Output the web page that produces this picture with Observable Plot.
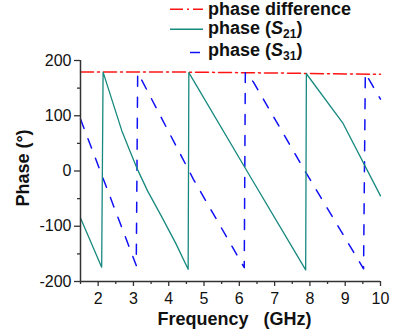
<!DOCTYPE html>
<html>
<head>
<meta charset="utf-8">
<script src="https://cdn.jsdelivr.net/npm/d3@7"></script>
<script src="https://cdn.jsdelivr.net/npm/@observablehq/plot@0.6"></script>
<style>
  html, body { margin: 0; padding: 0; background: #fff; }
  #chart { position: relative; width: 395px; height: 335px; }
</style>
</head>
<body>
<div id="chart"></div>
<script>
// ---- data ----
const s21Freq  = [1.5, 2.10, 2.14, 2.40, 2.67, 2.90, 3.12, 3.40, 3.81, 4.20, 4.55, 4.57, 6.30, 7.88, 7.90, 8.94, 10.0];
const s21Phase = [-85, -174, 179, 127, 73, 36, 2, -36, -84, -131, -178, 178, -9, -179, 176, 86, -45];

const s31Freq  = [1.5, 3.08, 3.12, 3.19, 4.70, 6.14, 6.17, 6.40, 7.86, 9.52, 9.57, 9.88, 10.0];
const s31Phase = [94, -171, 177, 170, -15, -175, 178, 161, 0, -177, 177, 143, 130];

const diffFreq  = [1.5, 3.0, 4.5, 6.0, 7.5, 8.5, 10.0];
const diffPhase = [179, 179, 179, 178, 177, 176, 175];

const xMajor = [2, 3, 4, 5, 6, 7, 8, 9, 10];
const xMinor = [1.5, 2.5, 3.5, 4.5, 5.5, 6.5, 7.5, 8.5, 9.5];
const yMajor = [-200, -100, 0, 100, 200];
const yMinor = [-150, -50, 50, 150];

const legendLabels = ["phase difference", "phase (S21)", "phase (S31)"];

const colRed = "#ff1414", colTeal = "#17897f", colBlue = "#1010f5";

const toRows = (xs, ys) => xs.map((f, i) => ({f, p: ys[i]}));
const s21 = toRows(s21Freq, s21Phase);
const s31 = toRows(s31Freq, s31Phase);
const diff = toRows(diffFreq, diffPhase);

const axisColor = "#333";
const fmt = d => String(d);

const chart = Plot.plot({
  width: 395,
  height: 335,
  marginLeft: 80,
  marginRight: 15,
  marginTop: 60,
  marginBottom: 54,
  x: {domain: [1.5, 10]},
  y: {domain: [-200, 200]},
  style: {fontFamily: "'Liberation Sans', Arial, sans-serif", fontSize: "16px", color: "#111", background: "transparent", overflow: "visible"},
  marks: [
    Plot.line(diff, {x: "f", y: "p", stroke: colRed, strokeWidth: 1.5, strokeDasharray: "13,4,2,4"}),
    Plot.line(s31, {x: "f", y: "p", stroke: colBlue, strokeWidth: 1.5, strokeDasharray: "10,11", curve: "linear"}),
    Plot.line(s21, {x: "f", y: "p", stroke: colTeal, strokeWidth: 1.3, curve: "linear"}),
    Plot.axisX({ticks: xMajor, tickFormat: fmt, tickSize: 5, tickPadding: 6, label: null, stroke: axisColor, strokeWidth: 1.3, fill: "#111"}),
    Plot.axisX({ticks: xMinor, tickSize: 3, text: null, label: null, stroke: axisColor, strokeWidth: 1.3}),
    Plot.axisY({ticks: yMajor, tickFormat: fmt, tickSize: 6, tickPadding: 3, label: null, stroke: axisColor, strokeWidth: 1.3, fill: "#111"}),
    Plot.axisY({ticks: yMinor, tickSize: 3, text: null, label: null, stroke: axisColor, strokeWidth: 1.3}),
    Plot.ruleY([-200], {stroke: axisColor, strokeWidth: 1.5}),
    Plot.ruleX([1.5], {stroke: axisColor, strokeWidth: 1.5}),
    Plot.text(["Frequency\u00a0\u00a0\u00a0(GHz)"], {frameAnchor: "bottom", lineAnchor: "middle", textAnchor: "middle", dx: 4, dy: 38, fontWeight: "bold", fontSize: 18, fill: "#111"}),
    Plot.text(["Phase (\u00b0)"], {frameAnchor: "left", rotate: -90, textAnchor: "middle", lineAnchor: "middle", dx: -57, dy: -3, fontWeight: "bold", fontSize: 18, fill: "#111"})
  ]
});

document.getElementById("chart").appendChild(chart);

// ---- legend (top right) ----
const svg = d3.select(chart);
const lg = svg.append("g")
  .attr("font-family", "'Liberation Sans', Arial, sans-serif")
  .attr("font-weight", "bold").attr("font-size", 18)
  .attr("text-anchor", "start").attr("fill", "#111");
const rows = [
  {ly: 9.3, ty: 15, stroke: colRed, dash: "13,4,2,4", w: 1.5},
  {ly: 29.3, ty: 34, stroke: colTeal, dash: null, w: 1.5},
  {ly: 52.5, ty: 56, stroke: colBlue, dash: "0,20,10,10", w: 1.5}
];
rows.forEach((r, i) => {
  const ln = lg.append("line").attr("x1", 170).attr("x2", 203).attr("y1", r.ly).attr("y2", r.ly)
    .attr("stroke", r.stroke).attr("stroke-width", r.w);
  if (r.dash) ln.attr("stroke-dasharray", r.dash);
  const t = lg.append("text").attr("x", 208).attr("y", r.ty).attr("text-anchor", "start");
  const lab = legendLabels[i];
  const m = lab.match(/^(.*)\(S(\d+)\)$/);
  if (m) {
    t.append("tspan").text(m[1] + "(");
    t.append("tspan").attr("font-style", "italic").text("S");
    t.append("tspan").attr("font-size", 12).attr("dy", 4).text(m[2]);
    t.append("tspan").attr("dy", -4).text(")");
  } else {
    t.text(lab);
  }
});
</script>
</body>
</html>
